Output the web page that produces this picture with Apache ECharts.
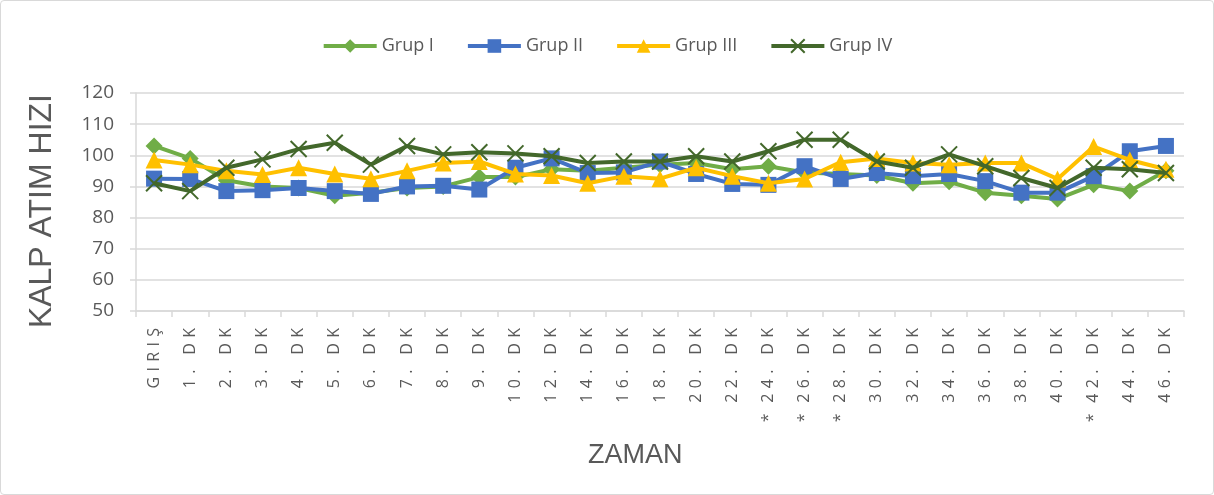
<!DOCTYPE html>
<html>
<head>
<meta charset="utf-8">
<script src="https://cdn.jsdelivr.net/npm/echarts@6/dist/echarts.min.js"></script>
<style>
html,body{margin:0;padding:0;background:#fff;}
#chart{width:1214px;height:495px;box-sizing:border-box;border:1px solid #d9d9d9;border-radius:4px;}
</style>
</head>
<body>
<div id="chart"></div>
<script>
const categories = ['GIRIŞ','1. DK','2. DK','3. DK','4. DK','5. DK','6. DK','7. DK','8. DK','9. DK',
  '10. DK','12. DK','14. DK','16. DK','18. DK','20. DK','22. DK','24. DK','26. DK','28. DK',
  '30. DK','32. DK','34. DK','36. DK','38. DK','40. DK','42. DK','44. DK','46. DK'];
const starred = ['24. DK','26. DK','28. DK','42. DK'];
const seriesNames = ['Grup I','Grup II','Grup III','Grup IV'];
const grupI   = [103, 99, 92, 90, 89.5, 87, 88, 89.5, 90, 93, 93, 95.5, 95, 96, 97, 97.5, 95.5, 96.5, 94.5, 94, 93.5, 91, 91.5, 88, 87, 86, 90.5, 88.5, 95];
const grupII  = [92.5, 92.4, 88.5, 88.8, 89.5, 88.5, 87.6, 90, 90.2, 89, 96, 99, 94.3, 94.5, 98, 94, 90.8, 90.5, 96.5, 92.4, 94.3, 93.3, 94, 91.7, 88, 88, 93.3, 101.3, 103];
const grupIII = [98.5, 97, 95, 93.8, 96, 94, 92.5, 95, 97.5, 98, 94, 93.5, 91, 93.3, 92.5, 96, 93.3, 91, 92.4, 97.8, 99, 97.5, 97, 97.5, 97.5, 92.4, 102.8, 98.5, 95.5];
const grupIV  = [91, 88.5, 96, 98.7, 102, 104, 97, 103, 100.3, 101, 100.6, 99.7, 97.5, 98, 98, 99.7, 98, 101.3, 105, 105, 98, 96, 100.3, 96.5, 92.7, 89.5, 96, 95.5, 94.3];
const yTicks = {min: 50, max: 120, interval: 10};

const colors = ['#70AD47', '#4472C4', '#FFC000', '#43682B'];
const symbols = ['diamond', 'rect', 'triangle', 'path://M0,0L10,10M10,0L0,10'];
const symbolSizes = [17, 16, 17, 16];
const allData = [grupI, grupII, grupIII, grupIV];

function spaced(s) { return s.split('').join('\u2004'); }

const chart = echarts.init(document.getElementById('chart'));
chart.setOption({
  animation: false,
  textStyle: {fontFamily: 'Open Sans'},
  legend: {
    top: 31, left: 'center',
    itemWidth: 53, itemHeight: 17, itemGap: 32,
    textStyle: {fontSize: 18, color: '#595959', fontFamily: 'Open Sans'},
    lineStyle: {width: 4},
    data: seriesNames
  },
  grid: {left: 135, right: 29, top: 92, bottom: 183},
  xAxis: {
    type: 'category',
    data: categories,
    boundaryGap: true,
    axisLine: {lineStyle: {color: '#d9d9d9', width: 1.5}},
    axisTick: {show: true, length: 6, lineStyle: {color: '#d9d9d9', width: 1.5}},
    axisLabel: {
      interval: 0, rotate: 90, fontSize: 16, color: '#595959', margin: 17,
      formatter: function (v) {
        return (starred.indexOf(v) >= 0 ? '*\u2004\u2004' : '') + spaced(v);
      }
    }
  },
  yAxis: {
    type: 'value',
    min: yTicks.min, max: yTicks.max, interval: yTicks.interval,
    axisLine: {show: true, lineStyle: {color: '#d9d9d9', width: 1.5}},
    axisTick: {show: true, length: 6, lineStyle: {color: '#d9d9d9', width: 1.5}},
    splitLine: {lineStyle: {color: '#d9d9d9', width: 1.5}},
    axisLabel: {fontSize: 19, color: '#595959', margin: 22}
  },
  graphic: [
    {type: 'text', left: 25, top: 93, rotation: Math.PI / 2,
      style: {text: 'KALP ATIM HIZI', font: '32px "Liberation Sans"', fill: '#595959'}},
    {type: 'text', left: 587, top: 441,
      style: {text: 'ZAMAN', font: '27px "Liberation Sans"', fill: '#595959'}}
  ],
  series: seriesNames.map((n, i) => ({
    name: n, type: 'line', data: allData[i],
    symbol: symbols[i], symbolSize: symbolSizes[i], showAllSymbol: true,
    lineStyle: {color: colors[i], width: 4},
    itemStyle: {color: colors[i], borderColor: colors[i], borderWidth: i === 3 ? 2 : 0},
    z: 2 + i
  }))
});
</script>
</body>
</html>
